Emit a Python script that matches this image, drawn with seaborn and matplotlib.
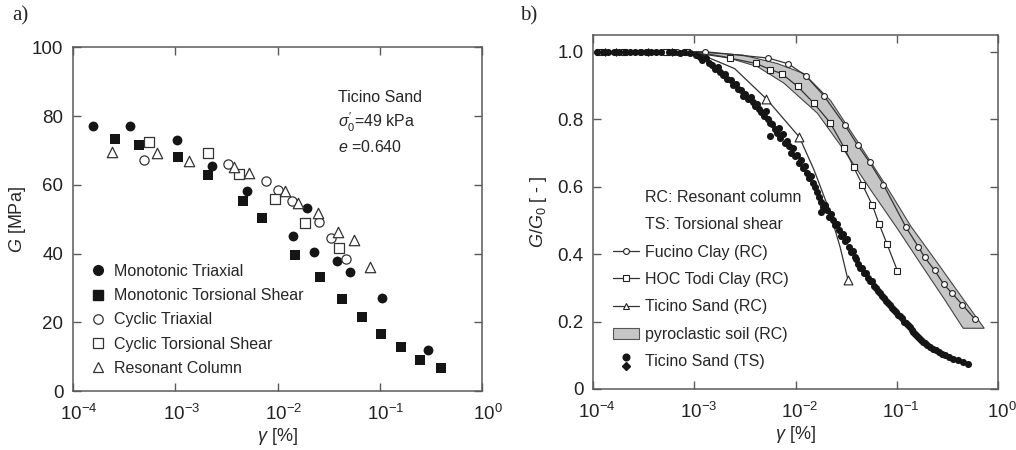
import numpy as np
import pandas as pd
import matplotlib
matplotlib.use("Agg")
import matplotlib.pyplot as plt
import matplotlib.transforms as mtrans
import seaborn as sns
from matplotlib.lines import Line2D
from matplotlib.patches import Patch
from matplotlib.legend_handler import HandlerBase
from matplotlib.ticker import LogLocator, NullLocator, FixedLocator, FixedFormatter

# ---------------- panel a) data : G [MPa] vs gamma [%] ----------------
mt_gamma = [1.55e-4, 3.6e-4, 1.05e-3, 2.27e-3, 5.07e-3, 1.4e-2, 1.93e-2, 2.28e-2, 3.8e-2, 5.1e-2, 0.104, 0.294]
mt_G = [77.0, 77.2, 73.0, 65.6, 58.3, 45.1, 53.3, 40.4, 37.9, 34.7, 27.2, 11.9]

mts_gamma = [2.6e-4, 4.4e-4, 1.07e-3, 2.07e-3, 4.57e-3, 7.0e-3, 1.49e-2, 2.6e-2, 4.25e-2, 6.65e-2, 0.102, 0.16, 0.245, 0.40]
mts_G = [73.2, 71.5, 68.2, 62.9, 55.2, 50.3, 39.7, 33.2, 26.7, 21.4, 16.5, 12.9, 8.9, 6.6]

ct_gamma = [4.9e-4, 3.3e-3, 7.7e-3, 1.0e-2, 1.38e-2, 2.57e-2, 3.33e-2, 4.7e-2]
ct_G = [67.2, 66.1, 61.0, 58.6, 55.2, 49.2, 44.4, 38.3]

cts_gamma = [5.5e-4, 2.1e-3, 4.2e-3, 9.5e-3, 1.86e-2, 4.03e-2]
cts_G = [72.3, 69.1, 63.2, 55.9, 48.9, 41.5]

rc_gamma = [2.4e-4, 6.6e-4, 1.35e-3, 3.76e-3, 5.2e-3, 1.17e-2, 1.59e-2, 2.49e-2, 3.9e-2, 5.6e-2, 8.1e-2]
rc_G = [69.6, 69.1, 66.8, 65.3, 63.3, 58.1, 54.7, 51.9, 46.3, 43.8, 36.1]

labels_a = ["Monotonic Triaxial", "Monotonic Torsional Shear", "Cyclic Triaxial",
            "Cyclic Torsional Shear", "Resonant Column"]

# ---------------- panel b) data : G/G0 vs gamma [%] ----------------
fucino_gamma = [2.9e-4, 6.8e-4, 1.28e-3, 5.4e-3, 8.5e-3, 0.0126, 0.019, 0.0308, 0.041, 0.054, 0.0738,
                0.123, 0.163, 0.189, 0.236, 0.29, 0.351, 0.444, 0.596]
fucino_G = [1.0, 1.0, 1.0, 0.981, 0.964, 0.929, 0.870, 0.782, 0.723, 0.672, 0.606,
            0.480, 0.422, 0.390, 0.352, 0.311, 0.284, 0.250, 0.206]

hoc_gamma = [1.15e-4, 2.0e-4, 5.2e-4, 8.5e-4, 2.24e-3, 4.08e-3, 5.65e-3, 7.3e-3, 0.0105, 0.0151, 0.0219,
             0.0304, 0.0375, 0.0457, 0.0574, 0.0668, 0.080, 0.1016]
hoc_G = [1.0, 1.0, 1.0, 1.0, 0.981, 0.965, 0.947, 0.935, 0.897, 0.848, 0.790,
         0.714, 0.658, 0.606, 0.545, 0.490, 0.430, 0.350]

ticrc_gamma = [5.16e-3, 0.0109, 0.033]
ticrc_G = [0.860, 0.747, 0.323]
ticrc_line_gamma = [1.0e-3, 2.5e-3, 5.16e-3, 0.0109, 0.0152, 0.0215, 0.0275, 0.033]
ticrc_line_G = [1.0, 0.95, 0.860, 0.747, 0.650, 0.531, 0.422, 0.323]

pyro_up_gamma = [1.0e-3, 3.0e-3, 6.6e-3, 0.0121, 0.0222, 0.0407, 0.0749, 0.138, 0.253, 0.464, 0.731]
pyro_up_G = [1.0, 0.99, 0.965, 0.935, 0.855, 0.735, 0.612, 0.482, 0.373, 0.262, 0.18]
pyro_lo_gamma = [1.0e-3, 2.0e-3, 4.2e-3, 7.66e-3, 0.0164, 0.030, 0.0553, 0.1016, 0.186, 0.294, 0.453]
pyro_lo_G = [1.0, 0.985, 0.956, 0.907, 0.818, 0.709, 0.590, 0.475, 0.356, 0.267, 0.18]

ts_gamma = [1.1e-4, 1.25e-4, 1.4e-4, 1.6e-4, 1.8e-4, 2.05e-4, 2.3e-4, 2.6e-4, 2.95e-4, 3.3e-4, 3.7e-4,
            4.2e-4, 4.7e-4, 5.6e-4, 6.3e-4, 7.2e-4, 8.0e-4, 9.0e-4,
            1.05e-3, 1.15e-3, 1.2e-3, 1.3e-3, 1.4e-3, 1.5e-3, 1.6e-3, 1.7e-3, 1.8e-3, 1.9e-3, 2.0e-3,
            2.1e-3, 2.3e-3, 2.4e-3, 2.6e-3, 2.7e-3, 2.9e-3, 3.0e-3, 3.2e-3, 3.4e-3, 3.6e-3, 3.8e-3,
            4.0e-3, 4.2e-3, 4.4e-3, 4.6e-3, 4.9e-3, 5.1e-3, 5.3e-3, 5.6e-3, 5.6e-3, 5.9e-3, 6.2e-3,
            6.5e-3, 6.8e-3, 7.1e-3, 7.5e-3, 7.8e-3, 8.2e-3, 8.6e-3, 9.0e-3, 9.4e-3, 9.8e-3, 0.0103,
            0.0108, 0.0113, 0.0118, 0.0124, 0.0130, 0.0136, 0.0142, 0.0149, 0.0156, 0.0163, 0.0170,
            0.0178, 0.0180, 0.0188, 0.0197, 0.0206, 0.0215, 0.0225, 0.0235, 0.0245, 0.0256, 0.0268,
            0.0280, 0.0293, 0.0306, 0.0320, 0.0335, 0.0350, 0.0366, 0.0383, 0.0400, 0.0418, 0.0437,
            0.0457, 0.0478, 0.0500, 0.0523, 0.0547, 0.0572, 0.0598, 0.0625, 0.0654, 0.0684, 0.0715,
            0.0748, 0.0782, 0.0818, 0.0855, 0.0894, 0.0935, 0.0978, 0.102, 0.107, 0.112, 0.117,
            0.122, 0.128, 0.134, 0.140, 0.146, 0.153, 0.160, 0.167, 0.175, 0.183, 0.191, 0.200,
            0.215, 0.230, 0.245, 0.26, 0.28, 0.30, 0.33, 0.36, 0.40, 0.45, 0.50]
ts_G = [1.0, 1.0, 0.998, 1.0, 1.0, 0.998, 1.0, 1.0, 1.0, 0.998, 1.0,
        1.0, 0.998, 1.0, 1.0, 0.997, 1.0, 0.995,
        0.99, 0.985, 0.975, 0.98, 0.965, 0.96, 0.95, 0.955, 0.94, 0.93, 0.935,
        0.92, 0.915, 0.90, 0.905, 0.89, 0.885, 0.87, 0.875, 0.86, 0.865, 0.85,
        0.84, 0.845, 0.83, 0.82, 0.81, 0.825, 0.80, 0.79, 0.75, 0.785, 0.77,
        0.76, 0.775, 0.745, 0.755, 0.73, 0.735, 0.72, 0.70, 0.715, 0.69, 0.695,
        0.67, 0.68, 0.655, 0.66, 0.64, 0.625, 0.63, 0.61, 0.60, 0.585, 0.57,
        0.525, 0.555, 0.54, 0.545, 0.53, 0.51, 0.52, 0.50, 0.485, 0.49, 0.47,
        0.455, 0.46, 0.44, 0.445, 0.42, 0.405, 0.41, 0.39, 0.385, 0.37, 0.36,
        0.36, 0.345, 0.345, 0.33, 0.32, 0.32, 0.305, 0.30, 0.29, 0.285, 0.275,
        0.27, 0.26, 0.255, 0.25, 0.24, 0.235, 0.228, 0.22, 0.215, 0.21, 0.20,
        0.195, 0.19, 0.183, 0.175, 0.168, 0.162, 0.157, 0.15, 0.145, 0.14, 0.135, 0.13,
        0.125, 0.12, 0.115, 0.11, 0.105, 0.10, 0.095, 0.09, 0.085, 0.08, 0.075]
ts_dia_gamma = [1.3e-4, 1.7e-4, 3.5e-4, 6.0e-4]
ts_dia_G = [1.0, 1.0, 1.0, 1.0]

labels_b = ["RC: Resonant column", "TS: Torsional shear", "Fucino Clay (RC)", "HOC Todi Clay (RC)",
            "Ticino Sand (RC)", "pyroclastic soil (RC)", "Ticino Sand (TS)"]

# ---------------- style ----------------
sns.set_theme(style="ticks")
plt.rcParams["font.family"] = ["Liberation Sans", "DejaVu Sans"]
plt.rcParams["mathtext.fontset"] = "custom"
plt.rcParams["mathtext.rm"] = "Liberation Sans"
plt.rcParams["mathtext.it"] = "Liberation Sans:italic"
plt.rcParams["mathtext.bf"] = "Liberation Sans:bold"

SP = "#5a5a5a"
DARK = "#151515"
FS = 11.5

fig = plt.figure(figsize=(10.16, 4.5), dpi=100)
ax1 = fig.add_axes([0.0719, 0.131, 0.4026, 0.764])
ax2 = fig.add_axes([0.5837, 0.1356, 0.3986, 0.787])


def style_axis(ax):
    for s in ax.spines.values():
        s.set_color(SP)
        s.set_linewidth(1.1)
        s.set_visible(True)
    ax.tick_params(which="major", direction="in", top=True, right=True, length=6, width=1.0,
                   color=SP, labelsize=13.5, labelcolor="#222", pad=7)
    ax.tick_params(axis="x", pad=9)
    ax.set_xscale("log")
    ax.set_xlim(1e-4, 1)
    ax.xaxis.set_major_locator(LogLocator(base=10, numticks=10))
    ax.xaxis.set_minor_locator(NullLocator())


def shift_xticklabels(ax, dx_px):
    off = mtrans.ScaledTranslation(dx_px / 100.0, 0, fig.dpi_scale_trans)
    for lab in ax.get_xticklabels():
        lab.set_transform(lab.get_transform() + off)


# ---------------- panel a ----------------
kw_f = dict(s=50, linewidth=0, ax=ax1, legend=False, zorder=3)
sns.scatterplot(x=mt_gamma, y=mt_G, marker="o", color=DARK, **kw_f)
sns.scatterplot(x=mts_gamma, y=mts_G, marker="s", color=DARK, **kw_f)
kw_o = dict(ax=ax1, legend=False, zorder=3)
sns.scatterplot(x=ct_gamma, y=ct_G, marker="o", s=44, facecolor="white", edgecolor="#333", linewidth=0.9, **kw_o)
sns.scatterplot(x=cts_gamma, y=cts_G, marker="s", s=52, facecolor="white", edgecolor="#333", linewidth=0.9, **kw_o)
sns.scatterplot(x=rc_gamma, y=rc_G, marker="^", s=56, facecolor="white", edgecolor="#333", linewidth=0.9, **kw_o)

style_axis(ax1)
ax1.set_ylim(0, 100)
ax1.set_yticks([0, 20, 40, 60, 80, 100])
ax1.set_xlabel(r"$\gamma$ [%]", fontsize=13, labelpad=2)
ax1.set_ylabel(r"$G$ [MPa]", fontsize=13, labelpad=3)

h_a = [Line2D([], [], ls="none", marker="o", ms=7, mfc=DARK, mec=DARK),
       Line2D([], [], ls="none", marker="s", ms=7, mfc=DARK, mec=DARK),
       Line2D([], [], ls="none", marker="o", ms=6.8, mfc="white", mec="#333", mew=0.9),
       Line2D([], [], ls="none", marker="s", ms=7.2, mfc="white", mec="#333", mew=0.9),
       Line2D([], [], ls="none", marker="^", ms=7.4, mfc="white", mec="#333", mew=0.9)]
ax1.legend(h_a, labels_a, loc="upper left", bbox_to_anchor=(0.0416, 0.37), frameon=False,
           fontsize=FS, handlelength=1.0, handletextpad=0.5, labelspacing=0.58,
           borderpad=0, borderaxespad=0)

ax1.text(0.648, 0.855, "Ticino Sand", transform=ax1.transAxes, fontsize=FS, va="center", ha="left")
ax1.text(0.648, 0.782, r"$\sigma_0'$=49 kPa", transform=ax1.transAxes, fontsize=FS, va="center", ha="left")
ax1.text(0.648, 0.71, r"$e$ =0.640", transform=ax1.transAxes, fontsize=FS, va="center", ha="left")

# ---------------- panel b ----------------
band_x = np.concatenate([pyro_up_gamma, pyro_lo_gamma[::-1]])
band_y = np.concatenate([pyro_up_G, pyro_lo_G[::-1]])
ax2.fill(band_x, band_y, facecolor="#c6c6c6", edgecolor="#444", linewidth=0.8, zorder=1)

line_kw = dict(ax=ax2, color="#333", linewidth=0.9, sort=False, estimator=None, legend=False, zorder=3)
sns.lineplot(x=fucino_gamma, y=fucino_G, marker="o", markersize=4.2, markerfacecolor="white",
             markeredgecolor="#222", markeredgewidth=0.8, **line_kw)
sns.lineplot(x=hoc_gamma, y=hoc_G, marker="s", markersize=4.2, markerfacecolor="white",
             markeredgecolor="#222", markeredgewidth=0.8, **line_kw)
sns.lineplot(x=ticrc_line_gamma, y=ticrc_line_G, **line_kw)

sns.scatterplot(x=ts_gamma, y=ts_G, marker="o", s=26, color=DARK, linewidth=0, ax=ax2, legend=False, zorder=4)
sns.scatterplot(x=ts_dia_gamma, y=ts_dia_G, marker="D", s=20, color=DARK, linewidth=0, ax=ax2, legend=False, zorder=4)
sns.scatterplot(x=ticrc_gamma, y=ticrc_G, marker="^", s=40, facecolor="white", edgecolor="#222",
                linewidth=0.8, ax=ax2, legend=False, zorder=5)

style_axis(ax2)
ax2.set_ylim(0, 1.05)
ax2.yaxis.set_major_locator(FixedLocator([0, 0.2, 0.4, 0.6, 0.8, 1.0]))
ax2.yaxis.set_major_formatter(FixedFormatter(["0", "0.2", "0.4", "0.6", "0.8", "1.0"]))
ax2.set_xlabel(r"$\gamma$ [%]", fontsize=13, labelpad=2)
ax2.set_ylabel(r"$G/G_0$ [ - ]", fontsize=13, labelpad=6)


class StackedDots(HandlerBase):
    def create_artists(self, legend, orig_handle, xdescent, ydescent, width, height, fontsize, trans):
        cx = -xdescent + width / 2
        a1 = Line2D([cx], [-ydescent + height * 0.85], ls="none", marker="o", ms=4.8,
                    mfc=DARK, mec=DARK, transform=trans)
        a2 = Line2D([cx], [-ydescent + height * 0.05], ls="none", marker="D", ms=4.4,
                    mfc=DARK, mec=DARK, transform=trans)
        return [a1, a2]


empty = Line2D([], [], ls="none")
h_b = [Line2D([], [], ls="none"), Line2D([], [], ls="none"),
       Line2D([], [], color="#333", lw=0.9, marker="o", ms=4.2, mfc="white", mec="#222", mew=0.8),
       Line2D([], [], color="#333", lw=0.9, marker="s", ms=4.2, mfc="white", mec="#222", mew=0.8),
       Line2D([], [], color="#333", lw=0.9, marker="^", ms=5, mfc="white", mec="#222", mew=0.8),
       Patch(facecolor="#c6c6c6", edgecolor="#555", linewidth=0.8),
       empty]
ax2.legend(h_b, labels_b, loc="upper left", bbox_to_anchor=(0.049, 0.563), frameon=False,
           fontsize=FS, handlelength=1.63, handletextpad=0.4, labelspacing=0.78,
           borderpad=0, borderaxespad=0, handler_map={empty: StackedDots()})

fig.text(0.012, 0.965, "a)", fontsize=15, family="Liberation Serif", va="center", ha="left")
fig.text(0.512, 0.965, "b)", fontsize=15, family="Liberation Serif", va="center", ha="left")

shift_xticklabels(ax1, 6)
shift_xticklabels(ax2, 4)

fig.savefig("out.png", dpi=100)
